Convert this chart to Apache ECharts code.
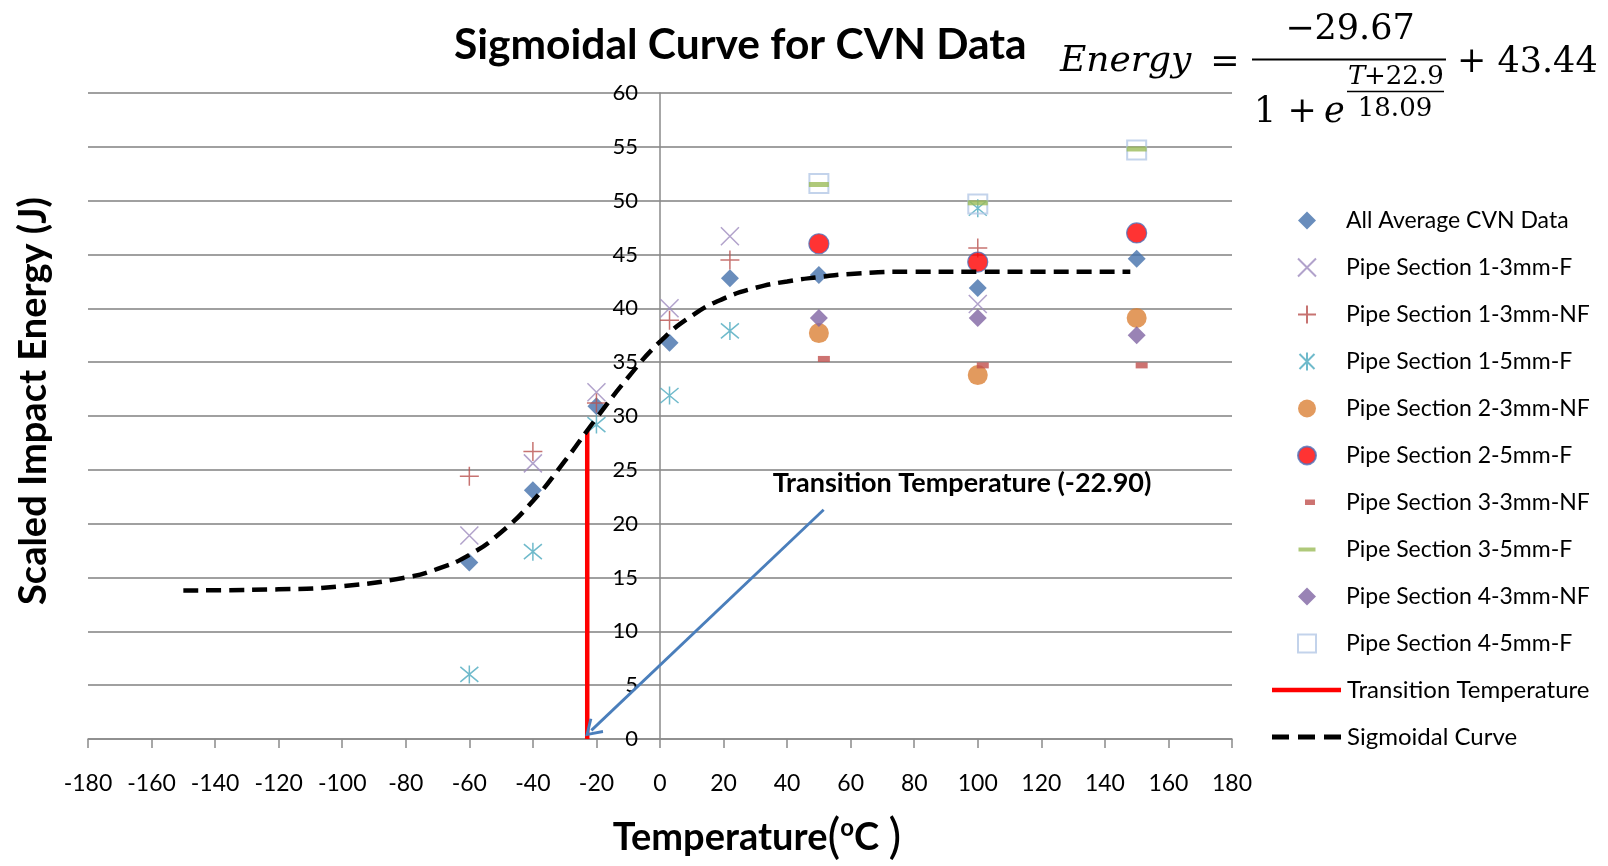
<!DOCTYPE html>
<html><head><meta charset="utf-8">
<script src="https://cdn.jsdelivr.net/npm/echarts@6/dist/echarts.min.js"></script>
<style>html,body{margin:0;padding:0;background:#fff}#c{width:1608px;height:866px}</style>
</head><body><div id="c"></div>
<script>
// ---- data ----
const allAverage = [[-60,16.4],[-40,23.1],[-20,30.9],[3,36.8],[22,42.8],[50,43.1],[100,41.9],[150,44.6]];
const ps1_3F  = [[-60,18.9],[-40,25.6],[-20,32.2],[3,40.0],[22,46.7],[100,40.4]];
const ps1_3NF = [[-60,24.4],[-40,26.7],[-20,31.2],[3,38.9],[22,44.5],[100,45.6]];
const ps1_5F  = [[-60,6.0],[-40,17.4],[-20,29.2],[3,31.9],[22,37.9],[100,49.3]];
const ps2_3NF = [[50,37.7],[100,33.8],[150,39.1]];
const ps2_5F  = [[50,46.0],[100,44.3],[150,47.0]];
const ps3_3NF = [[50,35.3],[100,34.7],[150,34.7]];
const ps3_5F  = [[50,51.5],[100,49.8],[150,54.8]];
const ps4_3NF = [[50,39.1],[100,39.1],[150,37.5]];
const ps4_5F  = [[50,51.6],[100,49.7],[150,54.7]];
const transitionLine = [[-22.9,0],[-22.9,28.6]];
const sigmoidCurve = [[-150,13.8],[-120,13.9],[-100,14.2],[-80,15.0],[-70,15.8],[-60,17.1],[-50,19.2],[-40,22.1],
  [-30,25.8],[-20,29.8],[-10,33.6],[0,36.9],[10,39.3],[20,40.9],[30,41.9],[40,42.5],[50,42.9],[60,43.2],
  [80,43.4],[100,43.4],[120,43.4],[148,43.4]];
const arrowStart = [51.5, 21.3];
const arrowEnd = [-21.6, 0.8];
const xRange = [-180, 180, 20];
const yRange = [0, 60, 5];

const names = ['All Average CVN Data','Pipe Section 1-3mm-F','Pipe Section 1-3mm-NF','Pipe Section 1-5mm-F',
  'Pipe Section 2-3mm-NF','Pipe Section 2-5mm-F','Pipe Section 3-3mm-NF','Pipe Section 3-5mm-F',
  'Pipe Section 4-3mm-NF','Pipe Section 4-5mm-F','Transition Temperature','Sigmoidal Curve'];

const X_PATH = 'path://M0,0L10,10M10,0L0,10';
const PLUS_PATH = 'path://M5,0L5,10M0,5L10,5';
const STAR_PATH = 'path://M0,0L10,10M10,0L0,10M5,-1L5,11';
const ARROW_HEAD = 'path://M10,0L20,15.5L17.6,17.2L10,5.2L2.4,17.2L0,15.5Z';
const RED_DASH_ICON = 'path://M0,0L0.01,0M18,18L18.01,18M7,6L17,6L17,11.5L7,11.5Z';
const GREEN_DASH_ICON = 'path://M0,0L0.01,0M18,18L18.01,18M0.5,7L17.5,7L17.5,11L0.5,11Z';
const RED_LINE_ICON = 'path://M0,0L69,0L69,4.5L0,4.5Z';
const DASH_LINE_ICON = 'path://M0,0L17,0L17,5L0,5ZM26,0L43,0L43,5L26,5ZM52,0L69,0L69,5L52,5Z';

function sc(name, data, symbol, size, itemStyle, extra) {
  return Object.assign({type:'scatter', name, data, symbol, symbolSize:size, itemStyle, z:3}, extra||{});
}
const series = [
  sc(names[0], allAverage, 'diamond', 18, {color:'#4471AB'}),
  sc(names[1], ps1_3F, X_PATH, 18, {color:'rgba(0,0,0,0)', borderColor:'#9D8BBE', borderWidth:1.5}),
  sc(names[2], ps1_3NF, PLUS_PATH, 19, {color:'rgba(0,0,0,0)', borderColor:'#B9504D', borderWidth:1.5}),
  sc(names[3], ps1_5F, STAR_PATH, 18, {color:'rgba(0,0,0,0)', borderColor:'#4BA9BE', borderWidth:1.5}),
  sc(names[4], ps2_3NF, 'circle', 20, {color:'#DB8136'}),
  sc(names[5], ps2_5F, 'circle', 20, {color:'#FF0000', borderColor:'#4F6FB8', borderWidth:1.2}),
  sc(names[6], ps3_3NF, 'rect', [12,6], {color:'#C0504D'}, {symbolOffset:[5,0]}),
  sc(names[7], ps3_5F, 'rect', [20,5], {color:'#9BBB59'}, {z:5}),
  sc(names[8], ps4_3NF, 'diamond', 18, {color:'#8064A2'}),
  sc(names[9], ps4_5F, 'rect', 19, {color:'rgba(255,255,255,0)', borderColor:'#B4C8E6', borderWidth:2}, {z:4}),
  {type:'line', name:names[10], data:transitionLine, symbol:'none', showSymbol:false, z:6,
   lineStyle:{color:'#FF0000', width:4.5}, itemStyle:{color:'#FF0000'}},
  {type:'line', name:names[11], data:sigmoidCurve, smooth:true, symbol:'none', showSymbol:false, z:7,
   lineStyle:{color:'#000', width:4.5, type:[15,8], cap:'butt'}, itemStyle:{color:'#000'}},
  {type:'line', name:'arrow', silent:true, z:8, showSymbol:true,
   data:[{value:arrowStart, symbol:'none'}, {value:arrowEnd, symbol:ARROW_HEAD, symbolSize:[20,17], symbolRotate:0}],
   lineStyle:{color:'#4A7EBB', width:2.8}, itemStyle:{color:'#4A7EBB'}}
];

const chart = echarts.init(document.getElementById('c'));
const legendText = {fontFamily:'Lato', fontSize:23, color:'#000'};
chart.setOption({
  animation:false,
  backgroundColor:'#fff',
  title:{text:'Sigmoidal Curve for CVN Data', left:454, top:24, padding:0,
    textStyle:{fontFamily:'Lato', fontWeight:'bold', fontSize:42.5, color:'#000'}},
  grid:{left:88, right:376, top:93, bottom:127, containLabel:false},
  xAxis:{type:'value', min:xRange[0], max:xRange[1], interval:xRange[2],
    axisLine:{onZero:true, lineStyle:{color:'#8a8a8a', width:1.5}},
    axisTick:{show:true, inside:false, length:9, lineStyle:{color:'#8a8a8a', width:1.5}},
    axisLabel:{margin:33, color:'#000', fontSize:23, fontFamily:"'Liberation Sans Narrow', Lato"},
    splitLine:{show:false}},
  yAxis:{type:'value', min:yRange[0], max:yRange[1], interval:yRange[2], offset:-572,
    axisLine:{show:true, onZero:false, lineStyle:{color:'#8a8a8a', width:1.5}},
    axisTick:{show:false},
    axisLabel:{margin:22, color:'#000', fontSize:22, fontFamily:'Lato'},
    splitLine:{show:true, lineStyle:{color:'#a0a0a0', width:2}}},
  legend:[
    {data:names.slice(0,10).map((n,i)=> i===6 ? {name:n, icon:RED_DASH_ICON} : i===7 ? {name:n, icon:GREEN_DASH_ICON} : {name:n}),
     orient:'vertical', left:1297, top:209, padding:0, itemWidth:18, itemHeight:18,
     itemGap:24, selectedMode:false, textStyle:Object.assign({padding:[0,0,0,25]}, legendText)},
    {data:[{name:names[10], icon:RED_LINE_ICON}, {name:names[11], icon:DASH_LINE_ICON}],
     orient:'vertical', left:1272, top:678, padding:0, itemWidth:69, itemHeight:14,
     itemGap:23, selectedMode:false, itemStyle:{borderWidth:0},
     textStyle:{fontFamily:'Lato', fontSize:24, color:'#000', padding:[0,0,0,1]}}
  ],
  graphic:[
    {type:'text', x:34, y:401, rotation:Math.PI/2,
     style:{text:'Scaled Impact Energy (J)', font:'bold 38px Lato', fill:'#000', align:'center', verticalAlign:'middle'}},
    {type:'text', x:757, y:838,
     style:{text:'{t|Temperature}{p|(}{s|o}{t|C }{p|)}', align:'center', verticalAlign:'middle', fill:'#000',
       rich:{t:{fontFamily:'Lato', fontWeight:'bold', fontSize:38, fill:'#000'},
             p:{fontFamily:'Lato', fontWeight:'normal', fontSize:48, fill:'#000'},
             s:{fontFamily:'Lato', fontWeight:'bold', fontSize:24, fill:'#000', verticalAlign:'top', padding:[2,0,0,0]}}}},
    {type:'text', x:962, y:483,
     style:{text:'Transition Temperature (-22.90)', font:'bold 27px Lato', fill:'#000', align:'center', verticalAlign:'middle'}},
    // equation
    {type:'text', x:1060, y:62, style:{text:'Energy', font:'italic 36px "DejaVu Serif"', fill:'#000', align:'left', verticalAlign:'middle'}},
    {type:'text', x:1225, y:63, style:{text:'=', font:'35px "DejaVu Serif"', fill:'#000', align:'center', verticalAlign:'middle'}},
    {type:'text', x:1350, y:30, style:{text:'\u221229.67', font:'35px "DejaVu Serif"', fill:'#000', align:'center', verticalAlign:'middle'}},
    {type:'line', shape:{x1:1252, y1:59.5, x2:1446, y2:59.5}, style:{stroke:'#000', lineWidth:2}},
    {type:'text', x:1254, y:113, style:{text:'1 +', font:'35px "DejaVu Serif"', fill:'#000', align:'left', verticalAlign:'middle'}},
    {type:'text', x:1324, y:113, style:{text:'e', font:'italic 35px "DejaVu Serif"', fill:'#000', align:'left', verticalAlign:'middle'}},
    {type:'text', x:1348, y:77, style:{text:'T', font:'italic 26px "DejaVu Serif"', fill:'#000', align:'left', verticalAlign:'middle'}},
    {type:'text', x:1364, y:77, style:{text:'+22.9', font:'26px "DejaVu Serif"', fill:'#000', align:'left', verticalAlign:'middle'}},
    {type:'line', shape:{x1:1347, y1:91.5, x2:1444, y2:91.5}, style:{stroke:'#000', lineWidth:1.5}},
    {type:'text', x:1395, y:109, style:{text:'18.09', font:'26px "DejaVu Serif"', fill:'#000', align:'center', verticalAlign:'middle'}},
    {type:'text', x:1457, y:63, style:{text:'+ 43.44', font:'35px "DejaVu Serif"', fill:'#000', align:'left', verticalAlign:'middle'}}
  ],
  series
});
// orient the arrow head along the arrow's own direction on screen
const p0 = chart.convertToPixel({gridIndex:0}, arrowStart);
const p1 = chart.convertToPixel({gridIndex:0}, arrowEnd);
const ang = Math.atan2(p1[1]-p0[1], p1[0]-p0[0]);
const rot = -(ang + Math.PI/2) * 180 / Math.PI;
series[12].data[1].symbolRotate = rot;
chart.setOption({series});
</script></body></html>
